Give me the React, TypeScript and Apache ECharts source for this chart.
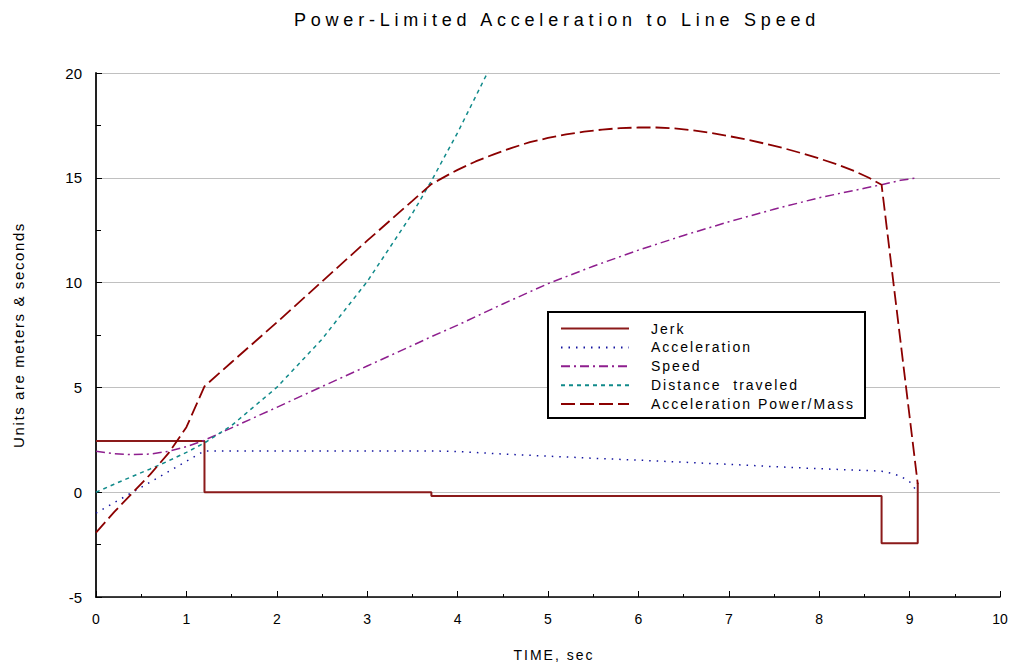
import React, { useEffect, useRef } from "react";
import * as echarts from "echarts";

// [time (s), value]
const jerkPoints: [number, number][] = [
  [0, 2.44], [1.2, 2.44], [1.2, 0], [3.71, 0], [3.71, -0.18], [8.69, -0.18],
  [8.69, -2.44], [9.09, -2.44], [9.09, 0.45],
];
const accelerationPoints: [number, number][] = [
  [0, -1.0], [1.2, 1.97], [3.71, 1.97], [4.0, 1.94], [4.5, 1.82], [5.0, 1.72],
  [5.5, 1.62], [6.0, 1.53], [6.5, 1.43], [7.0, 1.33], [7.5, 1.22], [8.0, 1.12],
  [8.5, 1.04], [8.69, 1.0], [8.8, 0.9], [8.9, 0.76], [9.0, 0.5], [9.09, 0.0],
];
const speedPoints: [number, number][] = [
  [0, 1.95], [0.2, 1.84], [0.4, 1.79], [0.6, 1.82], [0.8, 1.95], [1.0, 2.17],
  [1.2, 2.48], [1.5, 3.07], [2.0, 4.05], [2.5, 5.04], [3.0, 6.02], [3.5, 7.0],
  [3.71, 7.42], [4.0, 7.97], [4.5, 8.98], [5.0, 9.95], [5.5, 10.78], [6.0, 11.55],
  [6.5, 12.25], [7.0, 12.9], [7.5, 13.5], [8.0, 14.05], [8.5, 14.5], [8.69, 14.67],
  [8.9, 14.88], [9.09, 15.0],
];
const distancePoints: [number, number][] = [
  [0, 0], [0.2, 0.38], [0.4, 0.75], [0.6, 1.11], [0.8, 1.49], [1.0, 1.9],
  [1.2, 2.35], [1.5, 3.18], [2.0, 5.0], [2.5, 7.3], [3.0, 10.05], [3.5, 13.3],
  [3.71, 14.85], [4.0, 17.15], [4.3, 19.75], [4.4, 20.6],
];
const powerPoints: [number, number][] = [
  [0, -1.93], [0.2, -0.95], [0.4, -0.05], [0.6, 0.85], [0.8, 1.85], [1.0, 3.1],
  [1.2, 5.05], [1.5, 6.2], [2.0, 8.1], [2.5, 10.05], [3.0, 12.0], [3.5, 13.9],
  [3.71, 14.7], [3.9, 15.15], [4.0, 15.38], [4.2, 15.78], [4.4, 16.12], [4.6, 16.43],
  [4.8, 16.7], [5.0, 16.9], [5.2, 17.07], [5.4, 17.2], [5.6, 17.3], [5.8, 17.37],
  [6.0, 17.4], [6.2, 17.4], [6.4, 17.36], [6.6, 17.27], [6.8, 17.14], [7.0, 16.99],
  [7.2, 16.82], [7.4, 16.63], [7.6, 16.42], [7.8, 16.18], [8.0, 15.92], [8.2, 15.64],
  [8.4, 15.3], [8.55, 15.0], [8.69, 14.67], [9.09, 0.4],
];

const seriesNames = ["Jerk", "Acceleration", "Speed", "Distance  traveled", "Acceleration Power/Mass"];
const titleText = "Power-Limited Acceleration to Line Speed";
const xName = "TIME, sec";
const yName = "Units are meters & seconds";
const xTicks = { min: 0, max: 10, interval: 1 };
const yTicks = { min: -5, max: 20, interval: 5 };

const FONT = "'Liberation Sans', Arial, sans-serif";

const letterSpacing: Record<string, number> = {
  [titleText]: 4.8,
  [xName]: 2,
  [yName]: 1.6,
  ...Object.fromEntries(seriesNames.map((n) => [n, 2.0])),
};

export default function App() {
  const ref = useRef<HTMLDivElement>(null);
  useEffect(() => {
    if (!ref.current) return;
    const el = ref.current;
    const chart = echarts.init(el, undefined, { renderer: "svg" });
    const mk = (name: string, data: [number, number][], color: string, width: number, type: any) => ({
      name,
      type: "line",
      data,
      symbol: "none",
      showSymbol: false,
      smooth: false,
      clip: true,
      lineStyle: { color, width, type },
      itemStyle: { color },
    });
    chart.setOption({
      animation: false,
      backgroundColor: "#ffffff",
      title: {
        text: titleText,
        left: 552,
        top: 6,
        textAlign: "center",
        textStyle: { fontFamily: FONT, fontSize: 18, fontWeight: "normal", color: "#000" },
      },
      grid: { left: 96, right: 14, top: 73, bottom: 69, containLabel: false },
      graphic: [
        {
          type: "rect",
          z: 5,
          shape: { x: 548, y: 312, width: 317, height: 106 },
          style: { fill: "#ffffff", stroke: "#000000", lineWidth: 2 },
        },
      ],
      legend: {
        z: 10,
        orient: "vertical",
        left: 548,
        top: 312,
        padding: [9.5, 10, 8, 12],
        itemWidth: 68,
        itemHeight: 13,
        itemGap: 4.9,
        data: seriesNames,
        itemStyle: { opacity: 0, borderWidth: 0 },
        textStyle: { fontFamily: FONT, fontSize: 14, color: "#000", padding: [0, 0, 0, 17] },
      },
      xAxis: {
        type: "value",
        ...xTicks,
        name: xName,
        nameLocation: "middle",
        nameGap: 51,
        nameTextStyle: { fontFamily: FONT, fontSize: 14, color: "#000", padding: [0, 0, 0, 12] },
        axisLine: { onZero: false, lineStyle: { color: "#000", width: 1.5 } },
        axisTick: { inside: true, length: 6, lineStyle: { color: "#000" } },
        minorTick: { show: true, splitNumber: 2, length: 3, lineStyle: { color: "#000" } },
        splitLine: { show: false },
        axisLabel: { fontFamily: FONT, fontSize: 14, color: "#000", margin: 15 },
      },
      yAxis: {
        type: "value",
        ...yTicks,
        name: yName,
        nameLocation: "middle",
        nameGap: 70,
        nameRotate: 90,
        nameTextStyle: { fontFamily: FONT, fontSize: 15, color: "#000" },
        axisLine: { show: true, onZero: false, lineStyle: { color: "#222", width: 2 } },
        axisTick: { show: true, inside: true, length: 6, lineStyle: { color: "#000" } },
        minorTick: { show: true, splitNumber: 2, length: 5, lineStyle: { color: "#000" } },
        splitLine: { show: true, lineStyle: { color: "#c0c0c0", width: 1 } },
        axisLabel: { fontFamily: FONT, fontSize: 15, color: "#000", margin: 14 },
      },
      series: [
        mk(seriesNames[0], jerkPoints, "#8b1a1a", 2, "solid"),
        mk(seriesNames[1], accelerationPoints, "#1414a0", 1.5, [1.5, 6]),
        mk(seriesNames[2], speedPoints, "#8e1e8e", 1.5, [9, 4, 2, 4]),
        mk(seriesNames[3], distancePoints, "#108a8a", 1.5, [4, 4]),
        mk(seriesNames[4], powerPoints, "#8b0000", 1.8, [14, 5]),
      ],
    });
    const applySpacing = () => {
      el.querySelectorAll("text").forEach((t) => {
        const s = letterSpacing[(t.textContent || "").trim()] ?? letterSpacing[t.textContent || ""];
        if (s) t.setAttribute("letter-spacing", String(s));
      });
    };
    applySpacing();
    chart.on("finished", applySpacing);
    const raf = requestAnimationFrame(applySpacing);
    return () => {
      cancelAnimationFrame(raf);
      chart.dispose();
    };
  }, []);
  return <div ref={ref} style={{ position: "fixed", left: 0, top: 0, width: 1014, height: 667 }} />;
}
